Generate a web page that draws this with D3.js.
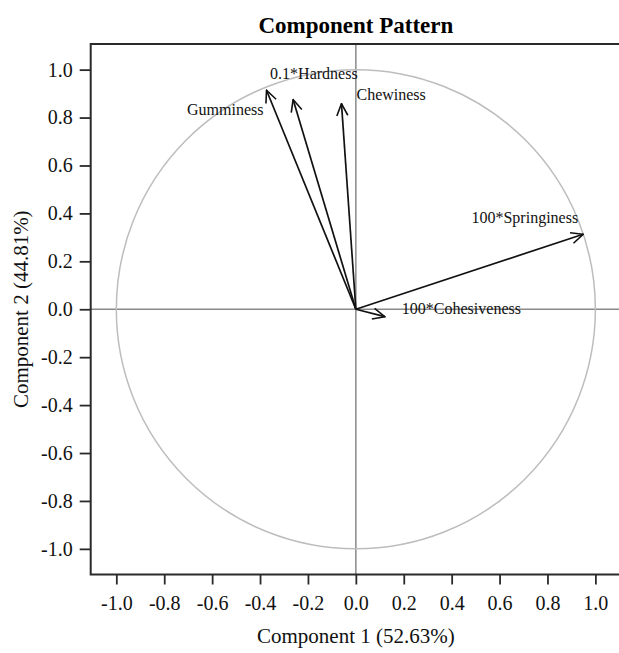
<!DOCTYPE html>
<html>
<head>
<meta charset="utf-8">
<script src="https://cdn.jsdelivr.net/npm/d3@7"></script>
<style>
  html, body { margin: 0; padding: 0; background: #fff; }
  svg { display: block; }
</style>
</head>
<body>
<svg id="chart"></svg>
<script>
// loadings
const variables = ["Gumminess", "0.1*Hardness", "Chewiness", "100*Springiness", "100*Cohesiveness"];
const comp1 = [-0.373, -0.262, -0.060, 0.949, 0.121];
const comp2 = [0.914, 0.875, 0.858, 0.313, -0.031];

const tickValues = [-1.0, -0.8, -0.6, -0.4, -0.2, 0.0, 0.2, 0.4, 0.6, 0.8, 1.0];
const xTitle = "Component 1 (52.63%)";
const yTitle = "Component 2 (44.81%)";
const chartTitle = "Component Pattern";

const W = 619, H = 653;
const serif = "'Liberation Serif', 'Times New Roman', serif";

// label offsets from arrow tip (layout only)
const labelPos = {
    "Gumminess": {dx: -3, dy: 25, anchor: "end"},
    "0.1*Hardness": {dx: -23, dy: -21, anchor: "start"},
    "Chewiness": {dx: 15, dy: -4, anchor: "start"},
    "100*Springiness": {dx: -5, dy: -11, anchor: "end"},
    "100*Cohesiveness": {dx: 17, dy: -3, anchor: "start"}
};

const svg = d3.select("#chart").attr("width", W).attr("height", H);

const lim = 1.107;
const x = d3.scaleLinear().domain([-lim, lim]).range([90.7, 621]);
const y = d3.scaleLinear().domain([-lim, lim]).range([574.5, 44]);

// 标题
svg.append("text")
    .attr("x", x(0))
    .attr("y", 33)
    .attr("text-anchor", "middle")
    .style("font-family", serif)
    .style("font-size", "23px")
    .style("font-weight", "bold")
    .text(chartTitle);

// reference lines through origin
svg.append("line")
    .attr("x1", x(0)).attr("x2", x(0))
    .attr("y1", y(lim)).attr("y2", y(-lim))
    .style("stroke", "#8a8a8a").style("stroke-width", 1.5);
svg.append("line")
    .attr("x1", x(-lim)).attr("x2", x(lim))
    .attr("y1", y(0)).attr("y2", y(0))
    .style("stroke", "#8a8a8a").style("stroke-width", 1.5);

// unit circle
svg.append("ellipse")
    .attr("cx", x(0)).attr("cy", y(0))
    .attr("rx", x(1) - x(0)).attr("ry", y(0) - y(1))
    .style("fill", "none")
    .style("stroke", "#bdbdbd")
    .style("stroke-width", 1.5);

// arrow head
svg.append("defs").append("marker")
    .attr("id", "head")
    .attr("viewBox", "0 0 14 14")
    .attr("refX", 13).attr("refY", 7)
    .attr("markerWidth", 14).attr("markerHeight", 14)
    .attr("markerUnits", "userSpaceOnUse")
    .attr("orient", "auto")
    .append("path")
    .attr("d", "M1,1.5 L13,7 L1,12.5")
    .style("fill", "none")
    .style("stroke", "#111")
    .style("stroke-width", 1.6);

const pts = variables.map((v, i) => ({name: v, c1: comp1[i], c2: comp2[i]}));

svg.selectAll(".vec")
    .data(pts)
    .enter().append("line")
    .attr("class", "vec")
    .attr("x1", x(0)).attr("y1", y(0))
    .attr("x2", d => x(d.c1)).attr("y2", d => y(d.c2))
    .style("stroke", "#111")
    .style("stroke-width", 1.7)
    .attr("marker-end", "url(#head)");

svg.selectAll(".vlabel")
    .data(pts)
    .enter().append("text")
    .attr("class", "vlabel")
    .attr("x", d => x(d.c1) + labelPos[d.name].dx)
    .attr("y", d => y(d.c2) + labelPos[d.name].dy)
    .attr("text-anchor", d => labelPos[d.name].anchor)
    .style("font-family", serif)
    .style("font-size", "16px")
    .style("fill", "#111")
    .text(d => d.name);

// frame
svg.append("rect")
    .attr("x", x(-lim)).attr("y", y(lim))
    .attr("width", x(lim) - x(-lim))
    .attr("height", y(-lim) - y(lim))
    .style("fill", "none")
    .style("stroke", "#2a2a2a")
    .style("stroke-width", 2);

// axes
const fmt = d => d.toFixed(1);
const xAxis = svg.append("g")
    .attr("transform", `translate(0,${y(-lim)})`)
    .call(d3.axisBottom(x).tickValues(tickValues).tickFormat(fmt).tickSize(10).tickPadding(11).tickSizeOuter(0));
const yAxis = svg.append("g")
    .attr("transform", `translate(${x(-lim)},0)`)
    .call(d3.axisLeft(y).tickValues(tickValues).tickFormat(fmt).tickSize(11).tickPadding(7).tickSizeOuter(0));

[xAxis, yAxis].forEach(g => {
    g.select(".domain").remove();
    g.selectAll(".tick line").style("stroke", "#2a2a2a").style("stroke-width", 1.8);
    g.selectAll(".tick text")
        .style("font-family", serif)
        .style("font-size", "20px")
        .style("fill", "#111");
});

svg.append("text")
    .attr("x", x(0))
    .attr("y", 643)
    .attr("text-anchor", "middle")
    .style("font-family", serif)
    .style("font-size", "21px")
    .style("fill", "#111")
    .text(xTitle);

svg.append("text")
    .attr("transform", `translate(28,${y(0)}) rotate(-90)`)
    .attr("text-anchor", "middle")
    .style("font-family", serif)
    .style("font-size", "21px")
    .style("fill", "#111")
    .text(yTitle);
</script>
</body>
</html>
